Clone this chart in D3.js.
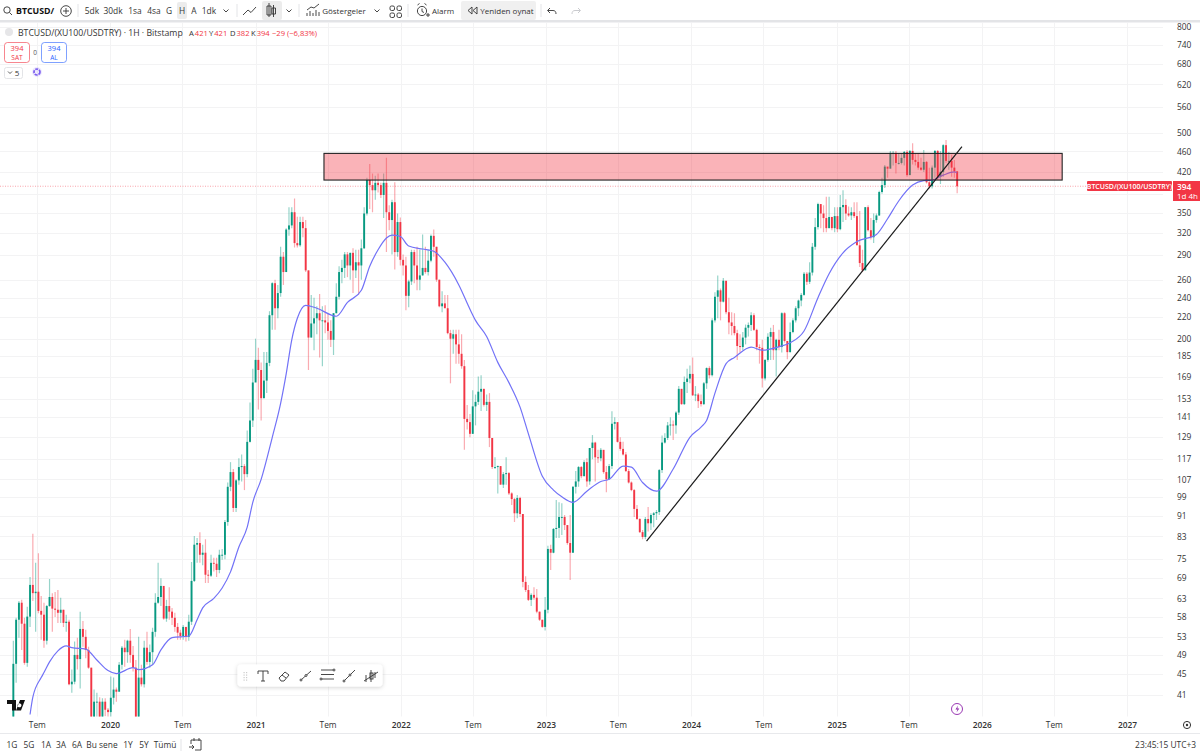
<!DOCTYPE html>
<html>
<head>
<meta charset="utf-8">
<script src="https://cdn.jsdelivr.net/npm/d3@7"></script>
<style>
html, body { margin: 0; padding: 0; background: #fff; overflow: hidden; }
svg text { font-family: "Open Sans", Roboto, sans-serif; }
</style>
</head>
<body>
<svg id="chart" width="1200" height="754"></svg>
<script>
// weekly closes, one per week from 3 May 2019 (each week opens on the previous close)
const firstOpen = 36;
const closes = [47.1,57.3,61.8,56.3,47.3,58.1,66.9,64.5,64.9,59.6,58.6,52.2,60.9,63.4,60.2,59.9,59.1,59.9,56.5,56.8,
43,43.5,49,48.1,55,53.1,50.1,46.3,36.4,39.8,39.8,37,39.8,38.4,38,40.5,42,41.6,46.9,50.6,
49.6,52.2,49,46.3,35.9,44.3,43,50.6,47.5,49.6,54.3,61.8,63.4,66.6,57.6,60.9,59.4,57.8,55.5,54.1,
53.3,55.5,53.1,56.8,68.1,80,80.6,76.5,77.2,70,69.7,73.8,73.5,71.5,76.5,76.5,88.5,103.5,110.5,94.2,
106.5,113,113.5,109.5,126.4,139,164.6,182,174,153.5,166,179.6,222,256,229,245,288,269,325,331,
351,306,303,336,327,271,201,214,219,224,217,217,215,207,199,224,241,269,274,291,
277,293,271,281,277,299,349,405,396,387,400,396,379,400,351,339,367,294,336,284,
277,242,258,294,277,260,265,274,269,283,316,301,260,231,234,229,205,200,204,195,
187,177,140,138,131,148,151,158,160,149,151,128.6,113,113,113.5,104.5,109.5,110,100.5,98,
92,98.5,91.7,67.8,65.4,62.6,64,63.2,59.4,57.3,55.5,59.9,78.5,77.2,85.8,86.2,90.5,90.5,87.3,80.6,
77.2,103.5,106,113,108.5,115.5,106,123,126,118,117.5,122,110.5,107,113.5,137,138,126.4,122.5,119.5,
111,105.5,102,93.8,89.7,84.6,82.8,89.7,88,91.3,92,92.5,111.5,126,128.6,136,136.5,136,144,160,
149.5,165,167.5,171,155.5,156,151.5,149.5,164,175.5,170,217,241,248,235.8,258.8,225,215,211.6,205,
193.6,192.7,201,210,212.6,222,208,192.7,192,167.6,182,201.7,206,190,199,192.7,224,198,188.4,206,
217,229,237,243,267,257.6,268.4,301,328.5,364,349,342,327,343.6,327,345,325.5,359,362.5,349,
346,351,345,303,280,271,359,324,314,339,346,384,396,430,426,457,457,437,437,447,
459,414,461,443,439,428,424,439,401,394,428,461,411,420,473,441,441,428,421,394];

const highs = [52.2,57.8,62.3,62.6,57.8,60.7,69.3,84,73.8,77,63.7,61.8,61.2,68.7,64.5,64.8,65.4,63.2,59.9,58.6,
57.3,45.9,52,52.9,59.4,57,54.8,50.8,46.3,42,41.4,40.6,40.4,40.4,38.7,44.5,44.3,42.4,47.5,51,
52.4,52.4,55,51,47.9,53.1,46.9,52.2,54.3,51.3,55.3,64.5,73.8,68.9,66,62.6,66.2,60.4,59.1,56.5,
54.8,56,55.3,58.6,74.1,83.2,82.4,84.6,80,82,71.5,76.5,75.5,75.5,78.2,78.5,89.3,105.5,115.5,112,
107,117.5,119.5,114.5,133,150.5,175,200,192,180,188.5,188.5,226,257,260,254,301,294,327,359,
359,373,344,344,344,339,271,243,240,231,244,231,232,224,217,224,256,276,284,294,
294,293,299,297,297,311,359,409,435,417,413,417,400,417,447,362,371,401,349,343,
291,288,260,297,297,301,297,318,301,297,318,325,301,260,247,243,243,208,208,208,
208,204,182,149,143,159,156,169,170,160,156,157,128.6,118,113.8,113,110.5,118,110.5,101,
98.5,99.8,99,91.7,69.5,66.9,64.5,66.2,65.7,59.4,57.3,63.4,79.6,80,86.2,97.6,96.6,96.2,91.3,87.3,
91.3,103.9,111,113.5,113.5,116.5,117.5,123,130.3,126.4,122,123,119.5,113.5,114.5,144.8,141,136,129,126.4,
120.8,112,106,102.5,95.5,90,85.4,90.5,94.6,92,92.5,93.4,112,130,131.3,138,141,139,144.8,162,
160,169,175,177.5,184,162,157,156,165,176,177,219,246,265,250,262,251,240,225,224,
208,204,206,213,215,225,224,209,195,199,182.5,205,210,212.6,200,208,225,225,198,215,
219,231,238,245,269,269,281,306,342,366,359,362,376,376,344,359,359,379,387,372,
360,359,367,367,353,297,359,362,342,349,349,386,409,433,428,461,461,461,457,457,
461,463,463,477,457,457,447,463,441,428,432,463,463,461,475,484,459,453,443,421];

const lows = [35.1,43.3,52.9,50.1,46.9,46.5,55.5,62.3,54.3,59,52.4,50.6,51.3,60.7,54.3,58,56.5,56.5,55.5,54.3,
42.8,41.4,43,45.9,42.2,50.8,48.3,46.1,35.1,35.1,36,36.4,36.4,37.3,36.7,37,39.3,39.8,42,45.9,
46.5,47.3,47.3,45.5,35.1,35.1,42.6,42.4,46.9,46.3,46.9,53.1,61.5,60.9,57.3,56.8,57.3,56,54.3,52.4,
52.4,52.4,52,52.2,56,67.8,73.8,73.8,73,67.5,67.5,69.3,71,69.3,70.5,74.8,75,87,101.5,92.5,
92.5,104.5,106,102,108,126,135,167,146,139,153.5,157,177,208,208,219,241,254,277,316,
327,300,300,301,314,269,174,201,190,204,184,177,205,199,192.7,186,224,238,256,262,
263,260,245,262,243,260,298,346,356,351,371,383,374,342,294,324,291,272,288,277,
265,227,230,254,256,248,248,265,267,265,281,288,257.6,230,225,230,204,164,187,179,
179,175,122,133.5,129,131,136,149,145,148,145,123.5,112,112,100.5,104.5,103,104.5,99.8,95.5,
88.5,90,90.5,66.2,64.8,62.3,60.9,62.6,59,57,55.3,54.6,59,71.5,77,82.4,82.4,83.5,85.4,80,
68.4,77.2,100.5,103.5,107.5,108.5,103.5,104.5,117,106,115,116,109.7,101,107,112,133.5,126,121.5,119,
110.5,105,101.5,90.5,89.3,84.3,82,82,84.8,85.4,86.5,89.3,91.3,110,125.5,127.5,130,127.5,131,142.5,
149,149,157,164,155,151.5,147,148,149,160,167.5,169,215,219,217,235,223,204,203,203,
182,188,190,195,202,207,207,190,179,161,166,180.5,182,182,169,190,188,196.5,182.5,188,
205,215,221,231,242,254,255,265,297,325,327,321,321,327,324,321,321,324,336,339,
344,339,342,306,275,269,280,322,311,306,335,345,381,391,409,432,432,417,434,434,
432,411,420,434,432,424,422,420,399,390,390,409,405,398,411,437,424,411,409,382];

// moving average at the weeks listed in maWeeks
const maWeeks = [6,7,10,11,13,16,19,21,26,30,34,37,43,45,50,53,57,63,66,68,72,75,78,81,84,86,89,93,96,98,100,102,105,109,116,120,125,128,131,134,136,139,142,147,151,155,160,164,166,170,174,178,182,185,190,194,197,201,206,211,214,219,222,226,231,237,243,247,249,252,256,259,265,269,275,279,284,289,293,298,303,310,314,318,323,327,330,334,338,339];
const maValues = [37.6,40.6,44.3,45.3,47.5,49.9,51,50.6,50.3,47.9,45.7,45.1,46.3,45.9,46.9,50.1,52.9,53.3,57.3,60.4,63,66,70.9,79.2,86.5,96.6,107,129,150,171,199,219,232,229,221,235,248,276,297,313,317,315,302,298,295,281,254,228,217,202,180,164.5,147.5,131,108.5,102,99,96.6,101.5,106,107,113.5,113,105.5,101.5,112,129,135,139,157,179,184,192.6,190,193,196.5,207,240,267,293,308,318,341,369,396,404,405,414,420,418];

const priceTicks = [800,740,680,620,560,500,460,420,350,320,290,260,240,220,200,185,169,153,141,129,117,107,99,91,83,75,69,63,58,53,49,45,41];
const gridPrices = priceTicks.concat([380]);
const yearTicks = [2020,2021,2022,2023,2024,2025,2026,2027];
const temYears = [2019,2020,2021,2022,2023,2024,2025,2026];

const zoneDates = [new Date(2021,5,22), new Date(2026,6,22)];
const zonePrices = [456, 405];
const trendDates = [new Date(2023,8,11), new Date(2025,10,12)];
const trendPrices = [81.3, 470];
const lastPrice = 394;

const weeks = closes.map((d, i) => new Date(2019, 4, 3 + i * 7));
const opens = [firstOpen].concat(closes.slice(0, -1));

const green = "#089981", red = "#f23645";

const svg = d3.select("#chart");
const x = d3.scaleTime().domain([new Date(2020,0,1), new Date(2027,0,1)]).range([110, 1127]);
const y = d3.scaleLog().domain([41, 800]).range([695, 27]);

const plotTop = 23, plotBottom = 716.5, plotRight = 1163;

const defs = svg.append("defs");
defs.append("clipPath").attr("id", "plot")
    .append("rect").attr("x", 0).attr("y", plotTop).attr("width", plotRight).attr("height", plotBottom - plotTop);
const shadow = defs.append("filter").attr("id", "shadow")
    .attr("x", "-10%").attr("y", "-30%").attr("width", "120%").attr("height", "170%");
shadow.append("feDropShadow").attr("dx", 0).attr("dy", 1).attr("stdDeviation", 2).attr("flood-opacity", 0.18);

// grid
const timeTicks = yearTicks.map(d => new Date(d,0,1)).concat(temYears.map(d => new Date(d,6,1)));
const grid = svg.append("g").attr("stroke", "#f3f3f4").attr("stroke-width", 1);
grid.selectAll(".h").data(gridPrices).join("line").attr("class", "h")
    .attr("x1", 0).attr("x2", plotRight)
    .attr("y1", d => Math.round(y(d)) + 0.5).attr("y2", d => Math.round(y(d)) + 0.5);
grid.selectAll(".v").data(timeTicks).join("line").attr("class", "v")
    .attr("y1", plotTop).attr("y2", plotBottom)
    .attr("x1", d => Math.round(x(d)) + 0.5).attr("x2", d => Math.round(x(d)) + 0.5);

const plot = svg.append("g").attr("clip-path", "url(#plot)");

// current price line
plot.append("line")
    .attr("x1", 0).attr("x2", plotRight)
    .attr("y1", y(lastPrice)).attr("y2", y(lastPrice))
    .attr("stroke", red).attr("stroke-opacity", 0.45).attr("stroke-width", 1).attr("stroke-dasharray", "1 1.5");

// wicks then bodies
const candles = weeks.map((d, i) => ({ date: d, open: opens[i], high: highs[i], low: lows[i], close: closes[i] }));
const color = d => d.close >= d.open ? green : red;

plot.append("g").selectAll("line").data(candles).join("line")
    .attr("x1", d => x(d.date)).attr("x2", d => x(d.date))
    .attr("y1", d => y(d.high)).attr("y2", d => y(d.low))
    .attr("stroke", color).attr("stroke-opacity", 0.42).attr("stroke-width", 1.2);

plot.append("g").selectAll("rect").data(candles).join("rect")
    .attr("x", d => x(d.date) - 0.95)
    .attr("width", 1.9)
    .attr("y", d => Math.min(y(d.open), y(d.close)))
    .attr("height", d => Math.max(0.9, Math.abs(y(d.open) - y(d.close))))
    .attr("fill", color);

// moving average
const maLine = d3.line().x(d => x(weeks[d])).y((d, i) => y(maValues[i])).curve(d3.curveMonotoneX);
plot.append("path").datum(maWeeks).attr("d", maLine)
    .attr("fill", "none").attr("stroke", "#7272f7").attr("stroke-width", 1.2);

// resistance zone
plot.append("rect")
    .attr("x", x(zoneDates[0])).attr("width", x(zoneDates[1]) - x(zoneDates[0]))
    .attr("y", y(zonePrices[0])).attr("height", y(zonePrices[1]) - y(zonePrices[0]))
    .attr("fill", red).attr("fill-opacity", 0.38)
    .attr("stroke", "#222").attr("stroke-width", 1.1);

// trend line
plot.append("line")
    .attr("x1", x(trendDates[0])).attr("y1", y(trendPrices[0]))
    .attr("x2", x(trendDates[1])).attr("y2", y(trendPrices[1]))
    .attr("stroke", "#1a1a1a").attr("stroke-width", 1.2);

// price axis
const yAxis = d3.axisRight(y).tickValues(priceTicks).tickSize(0).tickPadding(0).tickFormat(d => d);
const yG = svg.append("g").attr("transform", "translate(1177,0)").call(yAxis);
yG.select(".domain").remove();
yG.selectAll("text").attr("font-size", 8.4).attr("fill", "#333").attr("x", 0).attr("dy", "0.32em");

// time axis
const xAxis = d3.axisBottom(x).tickValues(timeTicks).tickSize(0).tickPadding(0)
    .tickFormat(d => d.getMonth() === 0 ? d.getFullYear() : "Tem");
const xG = svg.append("g").attr("transform", "translate(0,722)").call(xAxis);
xG.select(".domain").remove();
xG.selectAll("text").attr("font-size", 8.4).attr("fill", "#333").attr("y", 0).attr("dy", "0.71em");
xG.selectAll(".tick").filter(d => d.getMonth() === 0).selectAll("text").attr("font-weight", 600);

// frame lines
svg.append("rect").attr("x", 0).attr("y", 20).attr("width", 1200).attr("height", 2.5).attr("fill", "#e3e4e7");
svg.append("line").attr("x1", 0).attr("x2", 1200).attr("y1", 733.5).attr("y2", 733.5).attr("stroke", "#e8e9ec");

function label(parent, px, py, str, opts) {
    const o = opts || {};
    return parent.append("text").attr("x", px).attr("y", py).text(str)
        .attr("font-size", o.size || 8.4)
        .attr("font-weight", o.weight || 400)
        .attr("fill", o.fill || "#333")
        .attr("text-anchor", o.anchor || "middle");
}

// top toolbar
const topBar = svg.append("g");
topBar.append("rect").attr("x", 177).attr("y", 2).attr("width", 10).attr("height", 17).attr("rx", 2).attr("fill", "#ececec");
topBar.append("rect").attr("x", 262).attr("y", 1).attr("width", 20).attr("height", 19).attr("rx", 2).attr("fill", "#ececec");
topBar.append("rect").attr("x", 461).attr("y", 1).attr("width", 75).attr("height", 19).attr("rx", 2).attr("fill", "#f0f0f0");
label(topBar, 16, 14, "BTCUSD/", { size: 8.8, weight: 700, anchor: "start", fill: "#111" });
const topLabels = [["5dk",92],["30dk",113],["1sa",135],["4sa",154],["G",169],["H",182],["A",194],["1dk",209],["Göstergeler",344],["Alarm",443],["Yeniden oynat",507]];
topLabels.forEach(d => label(topBar, d[1], 14, d[0], { size: d[1] > 300 ? 8 : 8.4 }));
[78,237,299,408,541].forEach(d => topBar.append("line").attr("x1", d).attr("x2", d).attr("y1", 4).attr("y2", 17).attr("stroke", "#e3e4e7"));

const icons = topBar.append("g").attr("fill", "none").attr("stroke", "#333").attr("stroke-width", 0.9);
icons.append("circle").attr("cx", 7).attr("cy", 10).attr("r", 3.2);
icons.append("path").attr("d", "M9.5 12.5L12 15");
icons.append("circle").attr("cx", 66).attr("cy", 11).attr("r", 5.3);
icons.append("path").attr("d", "M63 11h6M66 8v6");
[226,289,377].forEach(d => icons.append("path").attr("d", `M${d-2.5} 9.5l2.5 2.5 2.5-2.5`));
icons.append("path").attr("d", "M243 15l5-5 3 2.5 5-5.5");
icons.append("path").attr("d", "M269 3v14M273.5 5v12M267 6h4v9h-4zM272 8h3.5v6h-3.5z");
icons.append("path").attr("d", "M307 16v-3M310 16v-5M313 16v-3M316 16v-6M319 16v-4M307 10l4-3 3 1 5-4");
icons.selectAll(".g").data([[390,6],[397,6],[390,13],[397,13]]).join("rect").attr("class", "g")
    .attr("x", d => d[0]).attr("y", d => d[1]).attr("width", 4.5).attr("height", 4.5).attr("rx", 1.5);
icons.append("circle").attr("cx", 422).attr("cy", 11).attr("r", 4.6);
icons.append("path").attr("d", "M422 8.5v3l2 1M417.5 5l2-1.5M426.5 5l-2-1.5M426 15h4M428 13v4");
icons.append("path").attr("d", "M472 7l-4 3.5 4 3.5zM477 7l-4 3.5 4 3.5z");
icons.append("path").attr("d", "M550 8l-2.5 2.5 2.5 2.5M548 10.5h5c2 0 3 1.2 3 3.5");
icons.append("path").attr("d", "M578 8l2.5 2.5-2.5 2.5M580 10.5h-5c-2 0-3 1.2-3 3.5").attr("stroke", "#c4c5c9");

// legend
const legend = svg.append("g");
legend.append("circle").attr("cx", 9).attr("cy", 32).attr("r", 4).attr("fill", "#e6e6e8");
label(legend, 18, 35.5, "BTCUSD/(XU100/USDTRY) · 1H · Bitstamp", { size: 8.7, anchor: "start", fill: "#333" });
const ohlcKeys = ["A","Y","D","K"];
const ohlcVals = ["421","421","382","394"];
const ohlcX = [189,209,230,251];
ohlcKeys.forEach((k, i) => {
    const t = label(legend, ohlcX[i], 35.5, k, { size: 7.6, anchor: "start", fill: "#333" });
    t.append("tspan").attr("fill", red).attr("dx", 1).text(ohlcVals[i]);
});
label(legend, 272, 35.5, "−29 (−6,83%)", { size: 7.6, anchor: "start", fill: red });

legend.append("rect").attr("x", 4.5).attr("y", 42.5).attr("width", 25).attr("height", 20).attr("rx", 3).attr("fill", "#fff").attr("stroke", red).attr("stroke-opacity", 0.6);
label(legend, 17, 51, "394", { size: 7.5, fill: red });
label(legend, 17, 59.5, "SAT", { size: 6.5, fill: red });
label(legend, 35, 55, "0", { size: 6.5, fill: "#555" });
legend.append("rect").attr("x", 41.5).attr("y", 42.5).attr("width", 25).attr("height", 20).attr("rx", 3).attr("fill", "#fff").attr("stroke", "#2962ff").attr("stroke-opacity", 0.6);
label(legend, 54, 51, "394", { size: 7.5, fill: "#2962ff" });
label(legend, 54, 59.5, "AL", { size: 6.5, fill: "#2962ff" });
legend.append("rect").attr("x", 4.5).attr("y", 67.5).attr("width", 18).attr("height", 11).attr("rx", 2).attr("fill", "#fff").attr("stroke", "#e3e4e7");
legend.append("path").attr("d", "M8 71.5l2 2 2-2").attr("fill", "none").attr("stroke", "#333").attr("stroke-width", 0.8);
label(legend, 17, 76, "5", { size: 8 });
legend.append("circle").attr("cx", 37).attr("cy", 72).attr("r", 3).attr("fill", "none").attr("stroke", "#7a5cf0").attr("stroke-width", 1.7).attr("stroke-dasharray", "3 1");
legend.append("circle").attr("cx", 37).attr("cy", 72).attr("r", 5).attr("fill", "#7a5cf0").attr("fill-opacity", 0.13);

// price badges
const badge = svg.append("g");
badge.append("rect").attr("x", 1087).attr("y", 181).attr("width", 85).attr("height", 10).attr("rx", 1).attr("fill", red);
label(badge, 1129.5, 189, "BTCUSD/(XU100/USDTRY)", { size: 7, weight: 600, fill: "#fff" });
badge.append("rect").attr("x", 1173).attr("y", 181).attr("width", 27).attr("height", 20).attr("fill", red);
label(badge, 1177, 189.5, "394", { size: 8.4, weight: 600, fill: "#fff", anchor: "start" });
label(badge, 1177, 198.5, "1d 4h", { size: 8, fill: "#fff", anchor: "start" });

// drawing toolbar
const tools = svg.append("g");
tools.append("rect").attr("x", 237.5).attr("y", 664.5).attr("width", 145).attr("height", 22).attr("rx", 4)
    .attr("fill", "#fff").attr("filter", "url(#shadow)");
tools.selectAll(".dot").data(d3.cross([243.5,246],[672,674.5,677,679.5])).join("rect").attr("class", "dot")
    .attr("x", d => d[0]).attr("y", d => d[1]).attr("width", 1.2).attr("height", 1.2).attr("fill", "#ccc");
const toolIcons = tools.append("g").attr("fill", "none").attr("stroke", "#333").attr("stroke-width", 0.9);
toolIcons.append("path").attr("d", "M258 674v-3h10v3M263 671v10M261 681h4");
toolIcons.append("path").attr("d", "M279 678l6-6 4 3-5 6h-3zM282 675l4 3");
toolIcons.append("path").attr("d", "M301 680l10-9");
toolIcons.append("path").attr("d", "M321 670h13M321 674.5h13M321 679h13");
toolIcons.append("path").attr("d", "M344 681l11-11");
toolIcons.append("path").attr("d", "M366 675v7M371 670v12M375 672v6M364 681l14-9");
toolIcons.append("rect").attr("x", 370).attr("y", 673).attr("width", 3).attr("height", 6);
toolIcons.selectAll(".end").data([[301,680],[306,675.5],[321,679],[334,670],[344,681],[350,675]]).join("circle").attr("class", "end")
    .attr("cx", d => d[0]).attr("cy", d => d[1]).attr("r", 1).attr("fill", "#fff");

// TV logo
svg.append("path").attr("fill", "#111")
    .attr("d", "M7 700h9v10.5h-4v-6.5h-5zM18 704a2 2 0 1 0 0.1-0.1zM20 700h5l-4 10.5h-5z");

// lightning marker
svg.append("circle").attr("cx", 957).attr("cy", 709).attr("r", 5.5).attr("fill", "#fff").attr("stroke", "#8e24aa").attr("stroke-width", 0.9);
svg.append("path").attr("d", "M958 705.5l-2.5 4h2l-1 3 2.8-4h-2z").attr("fill", "#8e24aa");

// gear
svg.append("circle").attr("cx", 1187).attr("cy", 725).attr("r", 3.6).attr("fill", "none").attr("stroke", "#333");
svg.append("circle").attr("cx", 1187).attr("cy", 725).attr("r", 1.2).attr("fill", "#333");

// bottom bar
const rangeLabels = ["1G","5G","1A","3A","6A","Bu sene","1Y","5Y","Tümü"];
const rangeX = [12,29,46,61,77,102,128,144,165];
const bottomBar = svg.append("g");
rangeLabels.forEach((d, i) => label(bottomBar, rangeX[i], 748, d));
bottomBar.append("line").attr("x1", 181).attr("x2", 181).attr("y1", 739).attr("y2", 751).attr("stroke", "#e3e4e7");
bottomBar.append("path").attr("d", "M191 740h10v10h-6M191 740v4M194 738v3M199 738v3M189 747h5M192 745l2 2-2 2")
    .attr("fill", "none").attr("stroke", "#333").attr("stroke-width", 0.9);
label(bottomBar, 1196, 748, "23:45:15 UTC+3", { anchor: "end", fill: "#333" });
</script>
</body>
</html>
